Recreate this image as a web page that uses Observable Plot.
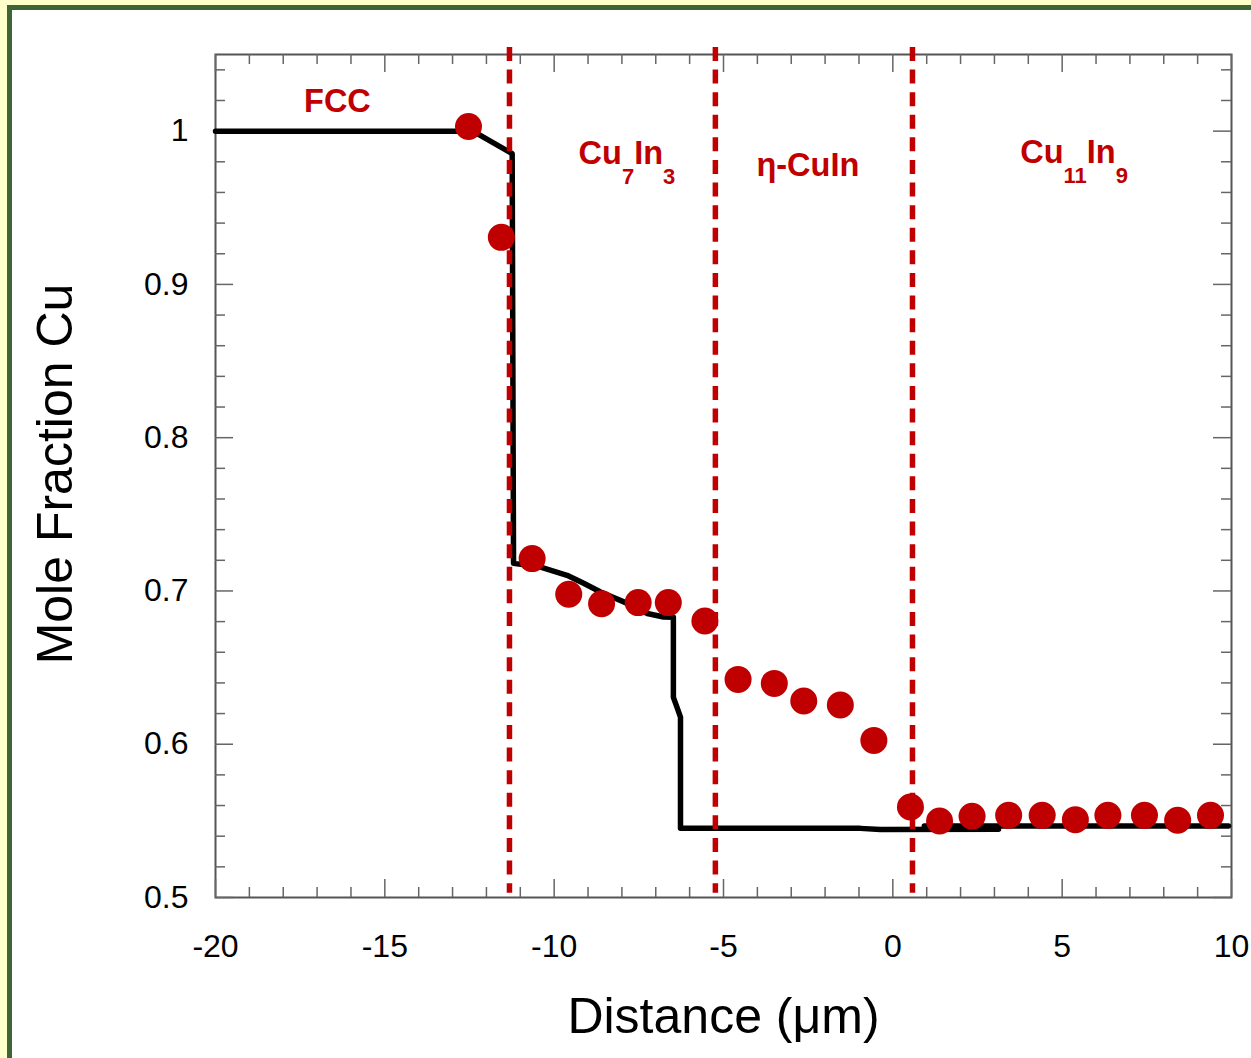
<!DOCTYPE html>
<html><head><meta charset="utf-8">
<script src="https://cdn.jsdelivr.net/npm/d3@7"></script>
<script src="https://cdn.jsdelivr.net/npm/@observablehq/plot@0.6"></script>
<style>
body{margin:0;background:#fff;}
#wrap{position:relative;width:1251px;height:1058px;overflow:hidden;background:#fff;}
#chart{position:absolute;left:0;top:0;}
.b{position:absolute;z-index:5;}
</style></head><body>
<div id="wrap">
<div id="chart"></div>
<div class="b" style="left:0;top:0;width:1251px;height:5px;background:#ffffcc"></div>
<div class="b" style="left:0;top:0;width:7px;height:1058px;background:#ffffcc"></div>
<div class="b" style="left:7px;top:5px;width:1244px;height:5px;background:#3d6634"></div>
<div class="b" style="left:7px;top:5px;width:5px;height:1053px;background:#3d6634"></div>
</div>
<script>
// Simulated profile (black line), segment 1
const modelX1 = [-20, -12.4, -11.24, -11.2, -10.4, -9.62, -9.13, -8.63, -7.84, -7.25, -6.77, -6.48, -6.48, -6.38, -6.27, -6.27, -0.96, -0.37, 3.12];
const modelY1 = [1.0, 1.0, 0.9853, 0.718, 0.7156, 0.7102, 0.705, 0.6993, 0.6919, 0.6853, 0.683, 0.6828, 0.6306, 0.6245, 0.6177, 0.5451, 0.5451, 0.5443, 0.5445];
// segment 2
const modelX2 = [0.93, 9.91];
const modelY2 = [0.5466, 0.5466];
// Measured points (red)
const expX = [-12.53, -11.56, -10.65, -9.57, -8.60, -7.52, -6.63, -5.55, -4.57, -3.50, -2.63, -1.55, -0.56, 0.52, 1.38, 2.34, 3.42, 4.41, 5.39, 6.35, 7.43, 8.41, 9.38];
const expY = [1.003, 0.9307, 0.7211, 0.6978, 0.6917, 0.6924, 0.6924, 0.6804, 0.6423, 0.6397, 0.6282, 0.6256, 0.6025, 0.559, 0.5499, 0.553, 0.5536, 0.5536, 0.5508, 0.5536, 0.5536, 0.5504, 0.5536];
// Phase boundaries and labels
const boundaries = [-11.32, -5.24, 0.58];
const phaseLabels = ["FCC", "Cu_7In_3", "η-CuIn", "Cu_11In_9"];
const phaseX = [-16.40, -7.85, -2.51, 5.35];
const phaseY = [1.0122, 0.9786, 0.9705, 0.9794];
// Ticks
const xMajor = [-20, -15, -10, -5, 0, 5, 10];
const yMajor = [0.5, 0.6, 0.7, 0.8, 0.9, 1];
const xMinor = d3.range(-20, 11, 1).filter(v => v % 5 !== 0);
const yMinor = d3.range(25, 53, 1).map(v => +(v * 0.02).toFixed(2)).filter(v => Math.abs(v * 10 - Math.round(v * 10)) > 1e-6);

const W = 1251, H = 1058, mL = 215, mR = 20, mT = 54, mB = 161;
const innerW = W - mL - mR, innerH = H - mT - mB;
const RED = "#C00000", AX = "#666";

const model = [
  ...modelX1.map((x, i) => ({x, y: modelY1[i], s: 1})),
  ...modelX2.map((x, i) => ({x, y: modelY2[i], s: 2}))
];
const exp = expX.map((x, i) => ({x, y: expY[i]}));

const chart = Plot.plot({
  width: W, height: H,
  marginLeft: mL, marginRight: mR, marginTop: mT, marginBottom: mB,
  x: {domain: [-20, 10]},
  y: {domain: [0.5, 1.05]},
  style: {fontFamily: "'Liberation Sans', Arial, sans-serif", color: "#000", background: "transparent"},
  marks: [
    Plot.frame({stroke: "#555", strokeWidth: 2}),
    // ticks bottom/top
    Plot.tickX(xMajor, {x: d => d, insetTop: innerH - 18, stroke: AX, strokeWidth: 1.5}),
    Plot.tickX(xMajor, {x: d => d, insetBottom: innerH - 18, stroke: AX, strokeWidth: 1.5}),
    Plot.tickX(xMinor, {x: d => d, insetTop: innerH - 10, stroke: AX, strokeWidth: 1.5}),
    Plot.tickX(xMinor, {x: d => d, insetBottom: innerH - 10, stroke: AX, strokeWidth: 1.5}),
    // ticks left/right
    Plot.tickY(yMajor, {y: d => d, insetRight: innerW - 18, stroke: AX, strokeWidth: 1.5}),
    Plot.tickY(yMajor, {y: d => d, insetLeft: innerW - 18, stroke: AX, strokeWidth: 1.5}),
    Plot.tickY(yMinor, {y: d => d, insetRight: innerW - 10, stroke: AX, strokeWidth: 1.5}),
    Plot.tickY(yMinor, {y: d => d, insetLeft: innerW - 10, stroke: AX, strokeWidth: 1.5}),
    Plot.axisX(xMajor, {anchor: "bottom", tickSize: 0, tickPadding: 37, fontSize: 32, label: null, tickFormat: d => String(d)}),
    Plot.axisY(yMajor, {anchor: "left", tickSize: 0, tickPadding: 27, fontSize: 32, label: null, tickFormat: d => String(d)}),
    Plot.text(["Distance (μm)"], {text: d => d, frameAnchor: "bottom", textAnchor: "middle", lineAnchor: "bottom", dy: 135, fontSize: 50, fill: "#000"}),
    Plot.text(["Mole Fraction Cu"], {text: d => d, frameAnchor: "left", textAnchor: "middle", lineAnchor: "bottom", rotate: -90, dx: -144, dy: -2, fontSize: 50, fill: "#000"}),
    Plot.line(model, {x: "x", y: "y", z: "s", stroke: "#000", strokeWidth: 5.5, strokeLinejoin: "round"}),
    Plot.ruleX(boundaries, {x: d => d, y1: 1.0546, y2: 0.5027, stroke: RED, strokeWidth: 5.5, strokeDasharray: "14,8.6"}),
    Plot.dot(exp, {x: "x", y: "y", r: 13.5, fill: RED, stroke: "none"}),
    Plot.text(phaseLabels, {x: (d, i) => phaseX[i], y: (d, i) => phaseY[i], text: d => d, fill: RED, fontWeight: "bold", fontSize: 32.5, lineAnchor: "bottom", textAnchor: "middle"})
  ]
});

// subscript formatting for phase labels
d3.select(chart).selectAll("text").filter(function () { return this.textContent.includes("_"); }).each(function () {
  const t = d3.select(this);
  const parts = this.textContent.split(/(_\d+)/).filter(s => s.length);
  t.text(null);
  let sub = false;
  parts.forEach(p => {
    if (p.startsWith("_")) {
      t.append("tspan").attr("font-size", 22).attr("dy", 20).text(p.slice(1));
      sub = true;
    } else {
      const ts = t.append("tspan").text(p);
      if (sub) ts.attr("dy", -20);
      sub = false;
    }
  });
});

document.getElementById("chart").appendChild(chart);
</script>
</body></html>
